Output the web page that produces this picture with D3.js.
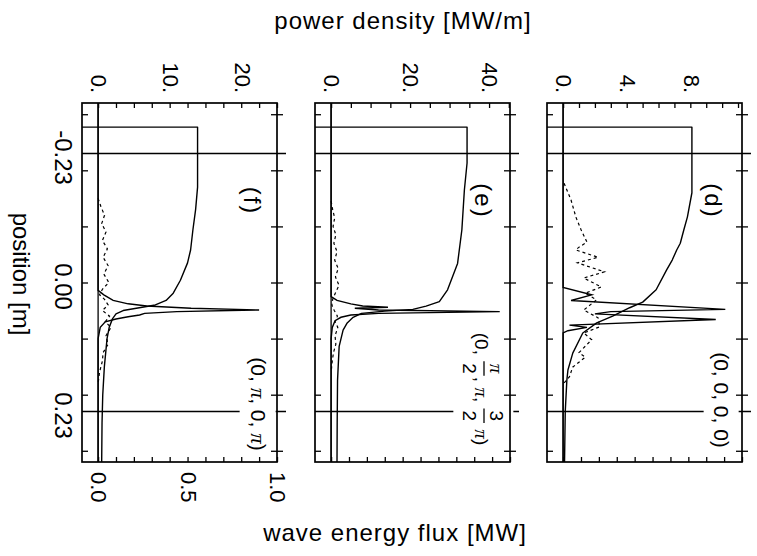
<!DOCTYPE html>
<html><head><meta charset="utf-8">
<script src="https://cdn.jsdelivr.net/npm/d3@7"></script>
<style>
body{margin:0;background:#fff}
svg{display:block}
text{font-family:"Liberation Sans",Arial,sans-serif;fill:#000;white-space:pre}
</style>
</head><body>
<svg id="c" width="757" height="556"></svg>
<script>
// ---------------- data ----------------
const panelIds = ["(f)", "(e)", "(d)"];
const powerMax = [25, 45.3, 11.25];            // power density at flux = 1.0
const powerMajorTicks = [[0, 10, 20], [0, 20, 40], [0, 4, 8]];
const powerMinorStep = [2.5, 5, 1];
const fluxDomain = [-0.09, 1.0];
const fluxTicks = [0, 0.1, 0.2, 0.3, 0.4, 0.5, 0.6, 0.7, 0.8, 0.9, 1.0];
const fluxTickLabels = [0.0, 0.5, 1.0];
const positionDomain = [-0.32, 0.32];
const positionTicks = [-0.3, -0.2, -0.1, 0, 0.1, 0.2, 0.3];
const positionLabels = [-0.23, 0.00, 0.23];
const boundaryPositions = [-0.23, 0.23];

// phase labels (π rendered in italic serif)
const phaseF = [{s: "(0, π, 0, π)"}];
const phaseE = [{s: "(0, "}, {num: "π", den: "2"}, {s: ", π, "}, {num: "3", den: "2"}, {s: " π)"}];
const phaseD = [{s: "(0, 0, 0, 0)"}];

// wave energy flux [MW] : [position, flux]
const fluxF = [[-0.277,-0.09],[-0.277,0.556],[-0.17,0.556],[-0.13,0.545],[-0.094,0.53],[-0.058,0.517],[-0.035,0.50],[-0.004,0.46],[0.019,0.42],[0.032,0.38],[0.040,0.32],[0.045,0.23],[0.050,0.14],[0.056,0.10],[0.065,0.08],[0.08,0.062],[0.1,0.05],[0.15,0.035],[0.2,0.026],[0.25,0.022],[0.32,0.02]];
const fluxE = [[-0.277,-0.09],[-0.277,0.76],[-0.213,0.76],[-0.165,0.745],[-0.094,0.731],[-0.034,0.707],[0.013,0.651],[0.034,0.605],[0.042,0.531],[0.048,0.457],[0.051,0.30],[0.055,0.17],[0.062,0.123],[0.072,0.09],[0.085,0.067],[0.114,0.045],[0.174,0.036],[0.25,0.034],[0.32,0.033]];
const fluxD = [[-0.277,-0.09],[-0.277,0.72],[-0.16,0.72],[-0.117,0.695],[-0.094,0.675],[-0.07,0.655],[-0.058,0.635],[-0.04,0.61],[-0.022,0.578],[0.013,0.52],[0.035,0.445],[0.045,0.372],[0.060,0.277],[0.072,0.188],[0.090,0.11],[0.126,0.054],[0.156,0.027],[0.174,0.021],[0.23,0.012],[0.32,0.008]];

// power density [MW/m] (solid) : [position, power]
const powerF = [[-0.32,0],[0.014,0],[0.022,0.8],[0.032,2.1],[0.038,4.2],[0.042,6.8],[0.046,13],[0.049,22.5],[0.052,11],[0.055,6.5],[0.058,5.8],[0.061,4.2],[0.065,2.5],[0.07,1.0],[0.08,0.3],[0.1,0],[0.32,0]];
const powerE = [[-0.32,0],[0.025,0],[0.032,1.5],[0.038,5],[0.042,8],[0.044,14.4],[0.046,6],[0.049,12],[0.052,42.7],[0.055,12],[0.058,5],[0.062,2.5],[0.068,1],[0.08,0.3],[0.1,0],[0.32,0]];
const powerD = [[-0.32,0],[0.009,0],[0.022,1.8],[0.032,0.5],[0.048,10.2],[0.052,3],[0.056,2.0],[0.066,9.6],[0.076,0.4],[0.080,1.5],[0.086,0.3],[0.09,0],[0.32,0]];

// power density [MW/m] (dashed) : [position, power]
const dashF = [[-0.15,0],[-0.135,0.4],[-0.12,0.9],[-0.105,0.5],[-0.09,1.1],[-0.075,0.6],[-0.06,1.3],[-0.045,0.7],[-0.03,1.4],[-0.015,0.8],[0.0,1.5],[0.012,0.6],[0.022,0.2],[0.03,0.9],[0.04,1.4],[0.05,0.6],[0.06,1.6],[0.07,1.0],[0.08,1.8],[0.095,1.1],[0.11,1.4],[0.125,0.7],[0.14,0.6],[0.16,0.2],[0.18,0]];
const dashE = [[-0.145,0],[-0.13,0.4],[-0.115,0.9],[-0.10,0.5],[-0.085,1.2],[-0.07,0.7],[-0.055,1.5],[-0.04,0.9],[-0.025,1.8],[-0.01,1.1],[0.005,2.0],[0.02,1.0],[0.03,0.4],[0.04,0.2],[0.05,0.8],[0.06,1.6],[0.07,1.0],[0.08,1.7],[0.095,1.0],[0.11,1.2],[0.125,0.6],[0.14,0.3],[0.16,0]];
const dashD = [[-0.177,0.06],[-0.147,0.5],[-0.117,0.8],[-0.094,1.13],[-0.072,1.5],[-0.063,1.0],[-0.058,0.8],[-0.045,2.2],[-0.035,0.9],[-0.019,2.6],[-0.008,1.3],[0.008,2.4],[0.019,1.4],[0.031,2.1],[0.049,1.3],[0.063,2.2],[0.079,2.3],[0.090,1.3],[0.102,1.8],[0.125,1.0],[0.133,1.4],[0.151,0.6],[0.168,0.4],[0.179,0.06]];

const fluxSeries = [fluxF, fluxE, fluxD];
const powerSeries = [powerF, powerE, powerD];
const dashSeries = [dashF, dashE, dashD];
const phaseSeries = [phaseF, phaseE, phaseD];

// ---------------- layout ----------------
const svg = d3.select("#c");
const yTop = 103, yBottom = 462, pw = 195;
const lefts = [82, 315, 547];
const phasePos = [[258, 404], [482, 389], [721, 400]];
const phaseSize = [21, 19, 21];
const idPos = [[252, 201], [483, 201], [713, 201]];
const yPos = d3.scaleLinear().domain(positionDomain).range([yTop, yBottom]);

function rotText(parent, x, yy, str, size, anchor) {
  return parent.append("text")
    .attr("transform", `translate(${x},${yy}) rotate(90)`)
    .attr("text-anchor", anchor).attr("dy", "0.35em")
    .style("font-size", size + "px").text(str);
}

function addStr(parent, s, x, yb, size) {
  const t = parent.append("text").attr("x", x).attr("y", yb).style("font-size", size + "px");
  s.split(/(π)/).filter(d => d.length).forEach(part => {
    const ts = t.append("tspan").text(part);
    if (part === "π") ts.style("font-family", "'Liberation Serif',serif").style("font-style", "italic");
  });
  return t;
}

function richLabel(parent, cx, cy, pieces, size) {
  const outer = parent.append("g").attr("transform", `translate(${cx},${cy}) rotate(90)`);
  const inner = outer.append("g");
  const base = size * 0.35;
  let x = 0;
  pieces.forEach(p => {
    if (p.s !== undefined) {
      const t = addStr(inner, p.s, x, base, size);
      x += t.node().getComputedTextLength();
    } else {
      const n = addStr(inner, p.num, 0, base - 15, size);
      const d = addStr(inner, p.den, 0, base + 12, size);
      const wn = n.node().getComputedTextLength(), wd = d.node().getComputedTextLength();
      const w = Math.max(wn, wd) + 6;
      n.attr("x", x + (w - wn) / 2); d.attr("x", x + (w - wd) / 2);
      inner.append("line").attr("x1", x + 1).attr("x2", x + w - 1).attr("y1", -2).attr("y2", -2)
        .attr("stroke", "#000").attr("stroke-width", 1.3);
      x += w;
    }
  });
  inner.attr("transform", `translate(${-x / 2},0)`);
  const bb = inner.node().getBBox();
  inner.insert("rect", ":first-child").attr("x", bb.x - 4).attr("y", bb.y - 6)
    .attr("width", bb.width + 8).attr("height", bb.height + 12).attr("fill", "#fff");
}

panelIds.forEach((id, i) => {
  const L = lefts[i], R = L + pw;
  const xF = d3.scaleLinear().domain(fluxDomain).range([L, R]);
  const xP = d3.scaleLinear().domain([fluxDomain[0] * powerMax[i], powerMax[i]]).range([L, R]);
  const g = svg.append("g");

  g.append("line").attr("x1", xP(0)).attr("x2", xP(0)).attr("y1", yTop).attr("y2", yBottom)
    .attr("stroke", "#000").attr("stroke-width", 1.3);
  boundaryPositions.forEach(b => {
    g.append("line").attr("x1", L).attr("x2", R + 9).attr("y1", yPos(b)).attr("y2", yPos(b))
      .attr("stroke", "#000").attr("stroke-width", 1.4);
  });

  const lineFlux = d3.line().x(d => xF(d[1])).y(d => yPos(d[0]));
  const linePow = d3.line().x(d => xP(d[1])).y(d => yPos(d[0]));
  g.append("path").attr("d", lineFlux(fluxSeries[i])).attr("fill", "none")
    .attr("stroke", "#000").attr("stroke-width", 1.4).attr("stroke-linejoin", "round");
  g.append("path").attr("d", linePow(dashSeries[i])).attr("fill", "none")
    .attr("stroke", "#000").attr("stroke-width", 1.2).attr("stroke-dasharray", "3,3");
  g.append("path").attr("d", linePow(powerSeries[i])).attr("fill", "none")
    .attr("stroke", "#000").attr("stroke-width", 1.4).attr("stroke-linejoin", "miter");

  richLabel(g, phasePos[i][0], phasePos[i][1], phaseSeries[i], phaseSize[i]);
  rotText(g, idPos[i][0], idPos[i][1], id, 24, "middle").style("letter-spacing", "2px");

  g.append("rect").attr("x", L).attr("y", yTop).attr("width", pw).attr("height", yBottom - yTop)
    .attr("fill", "none").attr("stroke", "#000").attr("stroke-width", 1.7);

  const minor = d3.range(0, powerMax[i] + 1e-9, powerMinorStep[i]);
  const styleAxis = a => { a.select(".domain").remove(); a.selectAll("line").attr("stroke", "#000").attr("stroke-width", 1.3); };
  g.append("g").attr("transform", `translate(0,${yTop})`)
    .call(d3.axisBottom(xP).tickValues(minor).tickSize(5).tickFormat("")).call(styleAxis);
  g.append("g").attr("transform", `translate(0,${yBottom})`)
    .call(d3.axisTop(xF).tickValues(fluxTicks).tickSize(5).tickFormat("")).call(styleAxis);
  g.append("g").attr("transform", `translate(${L},0)`)
    .call(d3.axisRight(yPos).tickValues(positionTicks).tickSize(6).tickFormat("")).call(styleAxis);
  g.append("g").attr("transform", `translate(${R - 6},0)`)
    .call(d3.axisRight(yPos).tickValues(positionTicks).tickSize(12).tickFormat("")).call(styleAxis);

  powerMajorTicks[i].forEach(v => rotText(g, xP(v) + 1, yTop - 10, v + ".", 22, "end"));
  if (i === 0) fluxTickLabels.forEach(v => rotText(g, xF(v) + 1, yBottom + 10, v.toFixed(1), 22, "start"));
});

positionLabels.forEach(v => rotText(svg, 63, yPos(v) + 4, v.toFixed(2), 24, "middle"));

rotText(svg, 21, 274, "position [m]", 24, "middle");
svg.append("text").attr("x", 403).attr("y", 29).attr("text-anchor", "middle")
  .style("font-size", "24px").style("letter-spacing", "1px").text("power density [MW/m]");
svg.append("text").attr("x", 395).attr("y", 541).attr("text-anchor", "middle")
  .style("font-size", "24px").style("letter-spacing", "1px").text("wave energy flux [MW]");
</script>
</body></html>
